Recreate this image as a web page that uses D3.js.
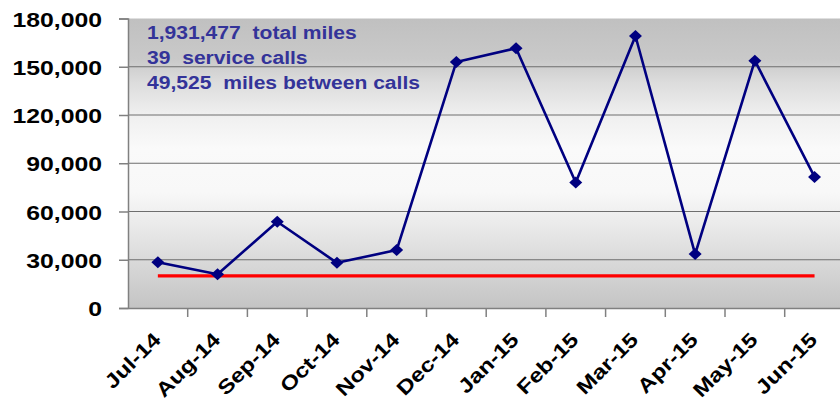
<!DOCTYPE html>
<html>
<head>
<meta charset="utf-8">
<script src="https://cdn.jsdelivr.net/npm/d3@7"></script>
<style>
  html, body { margin: 0; padding: 0; background: #fff; }
  svg { display: block; font-family: 'Liberation Sans', Arial, sans-serif; }
</style>
</head>
<body>
<div id="container"></div>
<script>
const months = ['Jul-14', 'Aug-14', 'Sep-14', 'Oct-14', 'Nov-14', 'Dec-14',
  'Jan-15', 'Feb-15', 'Mar-15', 'Apr-15', 'May-15', 'Jun-15'];
const milesBetweenCalls = [28500, 21000, 53600, 28100, 36000, 153000,
  161500, 78000, 169100, 33500, 153800, 81500];
const goal = [20000, 20000, 20000, 20000, 20000, 20000,
  20000, 20000, 20000, 20000, 20000, 20000];
const yTicks = [0, 30000, 60000, 90000, 120000, 150000, 180000];
const notes = ['1,931,477  total miles', '39  service calls', '49,525  miles between calls'];

const width = 840;
const height = 402;
const plotLeft = 128;
const plotRight = 844.4;
const plotTop = 18.5;
const plotBottom = 308;

const svg = d3.select('#container')
  .append('svg')
  .attr('width', width)
  .attr('height', height);

// plot background gradient
const grad = svg.append('defs')
  .append('linearGradient')
  .attr('id', 'bg')
  .attr('x1', 0).attr('y1', 0).attr('x2', 0).attr('y2', 1);
[[0, '#c0c0c0'], [0.14, '#c9c9c9'], [0.22, '#dcdcdc'], [0.33, '#efefef'],
  [0.45, '#fafafa'], [0.6, '#f8f8f8'], [0.73, '#e8e8e8'], [0.87, '#d5d5d5'], [1, '#c4c4c4']]
  .forEach(([o, c]) => grad.append('stop').attr('offset', o).attr('stop-color', c));

const xScale = d3.scaleBand().domain(months).range([plotLeft, plotRight]);
const yScale = d3.scaleLinear().domain([0, 180000]).range([plotBottom, plotTop]);
const cx = (d) => xScale(d) + xScale.bandwidth() / 2;

svg.append('rect')
  .attr('x', plotLeft)
  .attr('y', plotTop)
  .attr('width', plotRight - plotLeft)
  .attr('height', plotBottom - plotTop)
  .attr('fill', 'url(#bg)');

// grid lines
svg.append('g')
  .selectAll('line')
  .data(yTicks.filter((d) => d > 0 && d < 180000))
  .enter()
  .append('line')
  .attr('x1', plotLeft)
  .attr('x2', plotRight)
  .attr('y1', (d) => yScale(d))
  .attr('y2', (d) => yScale(d))
  .attr('stroke', '#6e6e6e')
  .attr('stroke-width', 1.2);

// y axis
const yAxis = svg.append('g')
  .attr('transform', `translate(${plotLeft},0)`)
  .call(d3.axisLeft(yScale).tickValues(yTicks).tickSize(9).tickFormat(d3.format(',')));
yAxis.select('.domain').attr('stroke', '#808080').attr('stroke-width', 1.5);
yAxis.selectAll('.tick line').attr('stroke', '#808080').attr('stroke-width', 1.5);
yAxis.selectAll('.tick text')
  .attr('x', null)
  .attr('dy', null)
  .attr('transform', 'translate(-26,7.5) scale(1.24,1)')
  .attr('fill', '#000')
  .style('font-size', '20px')
  .style('font-weight', 'bold');

// x axis
const xAxis = svg.append('g')
  .attr('transform', `translate(0,${plotBottom})`)
  .call(d3.axisBottom(xScale).tickSize(0).tickPadding(0));
xAxis.select('.domain').attr('stroke', '#808080').attr('stroke-width', 1.5);
xAxis.selectAll('.tick text')
  .attr('y', null)
  .attr('dy', null)
  .attr('text-anchor', 'end')
  .attr('transform', 'translate(4,33) rotate(-45) scale(1.2,1)')
  .attr('fill', '#000')
  .style('font-size', '20px')
  .style('font-weight', 'bold');
xAxis.selectAll('.bound')
  .data(months)
  .enter()
  .append('line')
  .attr('class', 'bound')
  .attr('x1', (d) => xScale(d) + xScale.bandwidth())
  .attr('x2', (d) => xScale(d) + xScale.bandwidth())
  .attr('y1', 0)
  .attr('y2', 9)
  .attr('stroke', '#808080')
  .attr('stroke-width', 1.5);

// goal line
svg.append('path')
  .datum(goal)
  .attr('fill', 'none')
  .attr('stroke', '#ff0000')
  .attr('stroke-width', 3.2)
  .attr('d', d3.line().x((d, i) => cx(months[i])).y((d) => yScale(d)));

// miles between calls
svg.append('path')
  .datum(milesBetweenCalls)
  .attr('fill', 'none')
  .attr('stroke', '#000080')
  .attr('stroke-width', 2.6)
  .attr('stroke-linejoin', 'round')
  .attr('d', d3.line().x((d, i) => cx(months[i])).y((d) => yScale(d)));

svg.append('g')
  .selectAll('path')
  .data(milesBetweenCalls)
  .enter()
  .append('path')
  .attr('fill', '#000080')
  .attr('d', (d, i) => {
    const x = cx(months[i]);
    const y = yScale(d);
    return `M${x},${y - 6}L${x + 6.5},${y}L${x},${y + 6}L${x - 6.5},${y}Z`;
  });

// notes
svg.append('g')
  .selectAll('text')
  .data(notes)
  .enter()
  .append('text')
  .attr('transform', (d, i) => `translate(147,${38.5 + i * 25}) scale(1.14,1)`)
  .attr('fill', '#333399')
  .style('font-size', '18.5px')
  .style('font-weight', 'bold')
  .style('white-space', 'pre')
  .text((d) => d);
</script>
</body>
</html>
